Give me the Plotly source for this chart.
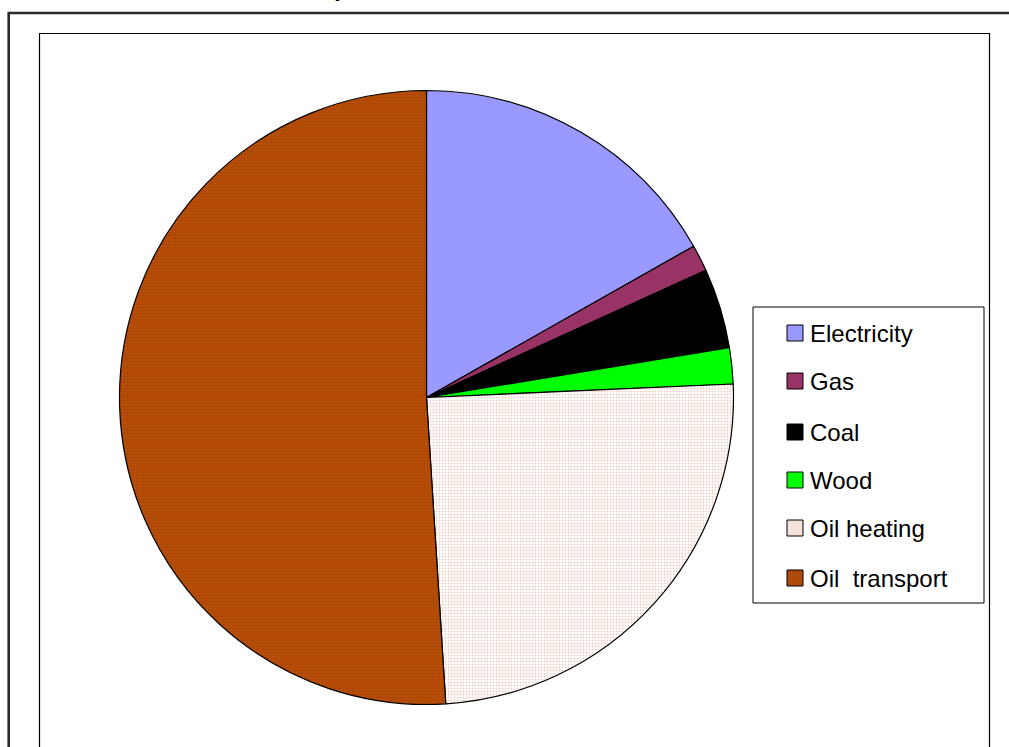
import plotly.graph_objects as go

W, H = 1009, 747

# Data (shares in %)
labels = ["Electricity", "Gas", "Coal", "Wood", "Oil heating", "Oil  transport"]
values = [16.8, 1.4, 4.2, 1.9, 24.7, 51.0]
colors = ["#9999FF", "#993366", "#000000", "#00FF00", "#FFFFFF", "#B84C04"]
pattern_shapes = ["", "", "", "", ".", "."]
pattern_fg = ["#9999FF", "#993366", "#000000", "#00FF00", "#D8A08C", "#8E3A0C"]
pattern_bg = ["#9999FF", "#993366", "#000000", "#00FF00", "#FFFFFF", "#BA4E06"]
legend_swatch = ["#9999FF", "#993366", "#000000", "#00FF00", "#F3E2DA", "#AE4A0A"]


def px(x):
    return x / W


def py(y):
    return 1 - y / H


cx, cy, r = 426.5, 397.5, 307

fig = go.Figure()
fig.add_trace(go.Pie(
    labels=labels,
    values=values,
    sort=False,
    direction="clockwise",
    rotation=0,
    textinfo="none",
    hoverinfo="label+percent",
    showlegend=False,
    marker=dict(
        colors=colors,
        line=dict(color="#000000", width=1.2),
        pattern=dict(shape=pattern_shapes, fgcolor=pattern_fg, bgcolor=pattern_bg,
                     fillmode="overlay", size=3, solidity=0.35),
    ),
    domain=dict(x=[px(cx - r), px(cx + r)], y=[py(cy + r), py(cy - r)]),
))

shapes = []
# outer frame (thick)
shapes.append(dict(type="rect", xref="paper", yref="paper",
                   x0=px(8.7), x1=px(1030), y0=py(780), y1=py(13),
                   line=dict(color="#2a2a2a", width=2.6), fillcolor="rgba(0,0,0,0)", layer="below"))
# inner plot-area frame
shapes.append(dict(type="rect", xref="paper", yref="paper",
                   x0=px(39.5), x1=px(989.5), y0=py(770), y1=py(33.5),
                   line=dict(color="#000000", width=1.2), fillcolor="rgba(0,0,0,0)", layer="below"))
# legend box
shapes.append(dict(type="rect", xref="paper", yref="paper",
                   x0=px(753), x1=px(984), y0=py(603), y1=py(307),
                   line=dict(color="#000000", width=1), fillcolor="#FFFFFF", layer="above"))

annotations = []
row_y = [333, 381, 432, 480, 528, 578]
for lab, col, yy in zip(labels, legend_swatch, row_y):
    shapes.append(dict(type="rect", xref="paper", yref="paper",
                       x0=px(787), x1=px(803), y0=py(yy + 8), y1=py(yy - 8),
                       line=dict(color="#000000", width=1), fillcolor=col, layer="above"))
    annotations.append(dict(text=lab, xref="paper", yref="paper",
                            x=px(808), y=py(yy), xanchor="left", yanchor="middle",
                            showarrow=False,
                            font=dict(family="Liberation Sans, Arial", size=24, color="#000000")))

# clipped title fragment at the top edge (the rest of the title lies above the picture)
annotations.append(dict(text="y", xref="paper", yref="paper", x=px(341), y=1,
                        xanchor="center", yanchor="bottom", yshift=-3, showarrow=False,
                        font=dict(family="Liberation Sans, Arial", size=24, color="#000000")))

fig.update_layout(
    width=W, height=H,
    margin=dict(l=0, r=0, t=0, b=0),
    paper_bgcolor="#FFFFFF",
    plot_bgcolor="#FFFFFF",
    shapes=shapes,
    annotations=annotations,
)

fig.write_html("out.html")
